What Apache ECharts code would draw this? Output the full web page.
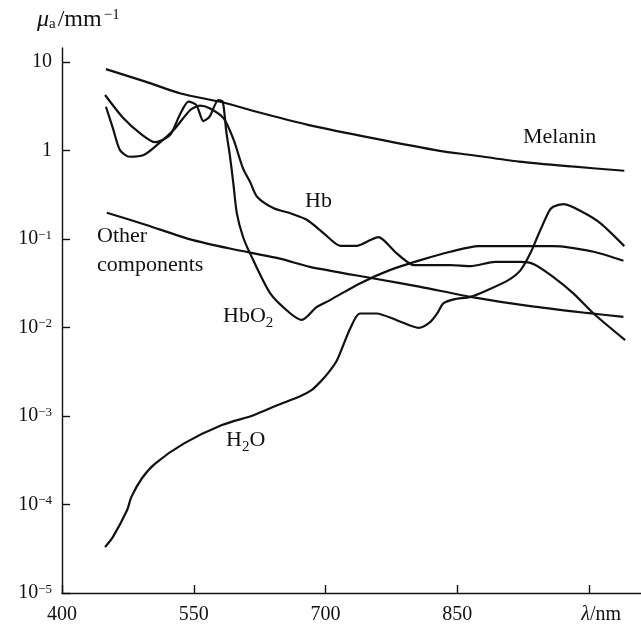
<!DOCTYPE html>
<html>
<head>
<meta charset="utf-8">
<script src="https://cdn.jsdelivr.net/npm/echarts@6/dist/echarts.min.js"></script>
<style>
  html, body { margin: 0; padding: 0; background: #fff; }
  #main { width: 641px; height: 635px; }
</style>
</head>
<body>
<div id="main"></div>
<script>
// 波长 (nm) 与吸收系数 (mm^-1)
const melaninX = [450, 495, 535, 580, 630, 680, 755, 830, 865, 920, 980, 1040];
const melaninY = [8.3, 6.0, 4.4, 3.55, 2.6, 1.95, 1.37, 0.99, 0.89, 0.75, 0.66, 0.59];

const hbo2X = [449, 470, 489, 506, 523, 534, 544, 553, 561, 568, 578, 583, 587, 591, 595, 599, 606, 614, 637, 660, 673, 690, 705, 739, 773, 808, 842, 874, 959, 1005, 1039];
const hbo2Y = [4.24, 2.31, 1.56, 1.24, 1.5, 2.52, 3.56, 3.26, 2.15, 2.41, 3.72, 3.56, 1.63, 0.889, 0.425, 0.195, 0.106, 0.0688, 0.0243, 0.0144, 0.0122, 0.0171, 0.0204, 0.0315, 0.0445, 0.0577, 0.0717, 0.0831, 0.0831, 0.0717, 0.0567];

const hbX = [450, 458, 466, 477, 493, 508, 527, 546, 557, 568, 584, 595, 606, 614, 622, 641, 660, 679, 698, 717, 736, 751, 760, 766, 781, 793, 800, 842, 865, 893, 922, 937, 959, 982, 1005, 1041];
const hbY = [3.12, 1.78, 1.01, 0.85, 0.889, 1.15, 1.7, 2.87, 3.21, 3.0, 2.31, 1.35, 0.628, 0.443, 0.3, 0.222, 0.195, 0.164, 0.116, 0.0838, 0.0838, 0.0972, 0.105, 0.0972, 0.0688, 0.0552, 0.0507, 0.0507, 0.0494, 0.0552, 0.0552, 0.052, 0.0374, 0.0243, 0.0144, 0.0072];

const otherX = [451, 496, 546, 591, 648, 682, 755, 808, 865, 933, 997, 1039];
const otherY = [0.198, 0.144, 0.099, 0.078, 0.06, 0.0485, 0.0358, 0.0288, 0.0222, 0.0174, 0.0146, 0.0132];

const waterX = [449, 458, 474, 479, 491, 506, 539, 582, 618, 645, 671, 684, 694, 703, 713, 728, 739, 758, 781, 806, 819, 827, 834, 846, 865, 884, 908, 922, 933, 942, 954, 959, 971, 994, 1013, 1040];
const waterY = [3.3e-5, 4.3e-5, 8.6e-5, 1.22e-4, 1.98e-4, 2.9e-4, 4.9e-4, 7.9e-4, 1.02e-3, 1.32e-3, 1.67e-3, 1.96e-3, 2.43e-3, 3.07e-3, 4.27e-3, 9.75e-3, 1.44e-2, 1.44e-2, 1.21e-2, 9.9e-3, 1.15e-2, 1.44e-2, 1.87e-2, 2.08e-2, 2.22e-2, 2.64e-2, 3.43e-2, 4.45e-2, 6.88e-2, 0.111, 0.203, 0.231, 0.248, 0.198, 0.15, 0.0831];

const xTicks = [400, 550, 700, 850, 1000];
const yTicks = [1e-5, 1e-4, 1e-3, 1e-2, 1e-1, 1, 10];

const FONT = "'Liberation Serif', 'DejaVu Serif', serif";
const INK = '#111';

function zip(xs, ys) {
  return xs.map((x, i) => [x, ys[i]]);
}

function lineSeries(name, xs, ys) {
  return {
    name: name,
    type: 'line',
    data: zip(xs, ys),
    showSymbol: false,
    smooth: 0.25,
    lineStyle: { color: INK, width: 2.2 },
    silent: true,
  };
}

var myChart = echarts.init(document.getElementById('main'));
let option = {
  animation: false,
  backgroundColor: '#fff',
  grid: {
    left: 62,
    right: 0,
    top: 48,
    bottom: 42,
    outerBoundsMode: 'none',
  },
  xAxis: {
    type: 'value',
    min: 400,
    max: 1059,
    splitLine: { show: false },
    axisLine: { lineStyle: { color: INK, width: 1.4 } },
    axisTick: { inside: true, length: 8, customValues: xTicks, lineStyle: { color: INK, width: 1.4 } },
    axisLabel: {
      customValues: xTicks,
      margin: 12,
      fontFamily: FONT,
      fontSize: 20,
      color: INK,
      formatter: function (v) {
        if (v === 1000) return '{l|λ}{n|/nm}';
        return String(v);
      },
      rich: {
        l: { fontFamily: FONT, fontSize: 20, fontStyle: 'italic', color: INK, padding: [0, 0, 0, 24] },
        n: { fontFamily: FONT, fontSize: 20, color: INK },
      },
    },
  },
  yAxis: {
    type: 'log',
    logBase: 10,
    min: 1e-5,
    max: 14.39,
    splitLine: { show: false },
    axisLine: { lineStyle: { color: INK, width: 1.4 } },
    axisTick: { inside: true, length: 8, customValues: yTicks, lineStyle: { color: INK, width: 1.4 } },
    axisLabel: {
      customValues: yTicks,
      margin: 10,
      fontFamily: FONT,
      fontSize: 20,
      color: INK,
      formatter: function (v) {
        const e = Math.round(Math.log10(v));
        if (e === 1) return '10';
        if (e === 0) return '1';
        return '{b|10}{s|−' + (-e) + '}';
      },
      rich: {
        b: { fontFamily: FONT, fontSize: 20, color: INK, lineHeight: 20 },
        s: { fontFamily: FONT, fontSize: 13, color: INK, verticalAlign: 'top', lineHeight: 13 },
      },
    },
  },
  graphic: [
    {
      type: 'text', x: 37, y: 20,
      style: {
        text: '{m|μ}{a|a}{n|/mm}{s|−1}',
        verticalAlign: 'middle', align: 'left',
        rich: {
          m: { fontFamily: FONT, fontSize: 24, fontStyle: 'italic', fill: INK, lineHeight: 24 },
          a: { fontFamily: FONT, fontSize: 15, fill: INK, verticalAlign: 'bottom', lineHeight: 15, padding: [0, 2, 0, 0] },
          n: { fontFamily: FONT, fontSize: 24, fill: INK, lineHeight: 24 },
          s: { fontFamily: FONT, fontSize: 15, fill: INK, verticalAlign: 'top', lineHeight: 15, padding: [0, 0, 0, 2] },
        },
      },
    },
    { type: 'text', x: 523, y: 137, style: { text: 'Melanin', font: '22px ' + FONT, fill: INK, verticalAlign: 'middle' } },
    { type: 'text', x: 305, y: 201, style: { text: 'Hb', font: '22px ' + FONT, fill: INK, verticalAlign: 'middle' } },
    { type: 'text', x: 97, y: 236, style: { text: 'Other', font: '22px ' + FONT, fill: INK, verticalAlign: 'middle' } },
    { type: 'text', x: 97, y: 265, style: { text: 'components', font: '22px ' + FONT, fill: INK, verticalAlign: 'middle' } },
    {
      type: 'text', x: 223, y: 316,
      style: {
        text: '{a|HbO}{s|2}',
        verticalAlign: 'middle', align: 'left',
        rich: {
          a: { fontFamily: FONT, fontSize: 22, fill: INK, lineHeight: 22 },
          s: { fontFamily: FONT, fontSize: 15, fill: INK, verticalAlign: 'bottom', lineHeight: 15, padding: [0, 0, -4, 0] },
        },
      },
    },
    {
      type: 'text', x: 226, y: 440,
      style: {
        text: '{a|H}{s|2}{a|O}',
        verticalAlign: 'middle', align: 'left',
        rich: {
          a: { fontFamily: FONT, fontSize: 22, fill: INK, lineHeight: 22 },
          s: { fontFamily: FONT, fontSize: 15, fill: INK, verticalAlign: 'bottom', lineHeight: 15, padding: [0, 0, -4, 0] },
        },
      },
    },
  ],
  series: [
    lineSeries('Melanin', melaninX, melaninY),
    lineSeries('HbO2', hbo2X, hbo2Y),
    lineSeries('Hb', hbX, hbY),
    lineSeries('Other components', otherX, otherY),
    lineSeries('H2O', waterX, waterY),
  ],
};
myChart.setOption(option);
</script>
</body>
</html>
